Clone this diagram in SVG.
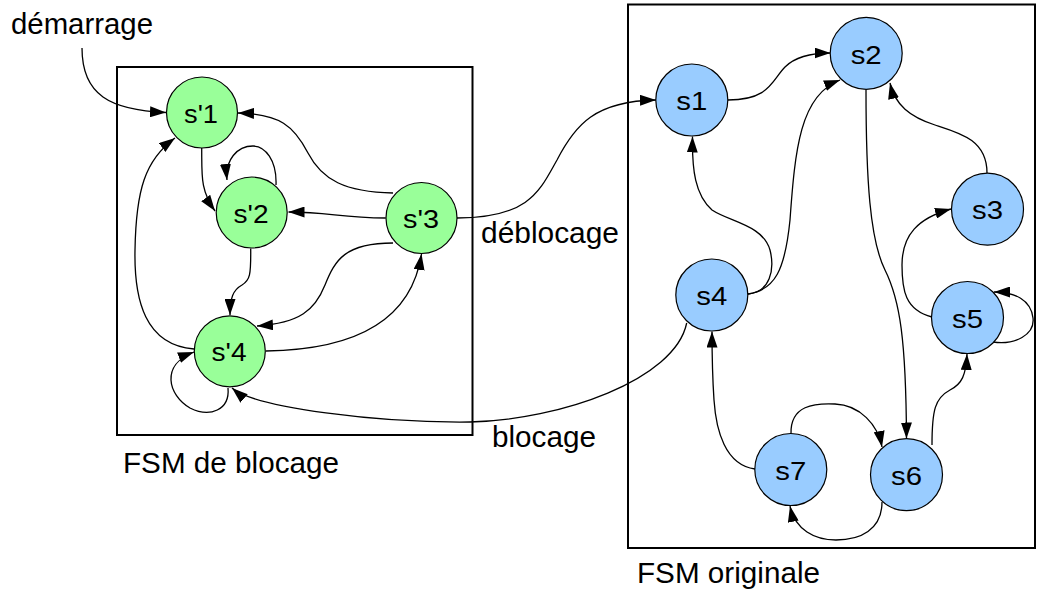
<svg xmlns="http://www.w3.org/2000/svg" width="1038" height="591" viewBox="0 0 1038 591">
  <style>
    .frame { fill: none; stroke: #000; stroke-width: 2; }
    .state { stroke: #000; stroke-width: 1.2; }
    .lock { fill: #99ff99; }
    .orig { fill: #99ccff; }
    .edge { fill: none; stroke: #000; stroke-width: 1.3; marker-end: url(#arrow); }
    .label { font-family: "Liberation Sans", Arial, sans-serif; fill: #000; }
    .node-label { font-size: 26px; text-anchor: middle; }
    .caption { font-size: 29px; }
  </style>
  <defs>
    <marker id="arrow" viewBox="0 0 16 11" refX="16" refY="5.5" markerWidth="16" markerHeight="11" markerUnits="userSpaceOnUse" orient="auto">
      <path d="M0,0 L16,5.5 L0,11 z" fill="#000"/>
    </marker>
  </defs>

  <rect width="1038" height="591" fill="#fff"/>

  <!-- container frames -->
  <g id="frame-blocage">
    <rect class="frame" x="117" y="67" width="355.5" height="368"/>
    <text class="label caption" x="123" y="473" textLength="216" lengthAdjust="spacingAndGlyphs">FSM de blocage</text>
  </g>
  <g id="frame-originale">
    <rect class="frame" x="628" y="4.5" width="407" height="543.5"/>
    <text class="label caption" x="637" y="583" textLength="183" lengthAdjust="spacingAndGlyphs">FSM originale</text>
  </g>

  <!-- transitions -->
  <g id="connectors">
    <!-- start -->
    <path class="edge" d="M82 48 C82 95 110 110 166 112.5"/>
    <!-- locking FSM -->
    <path class="edge" d="M393 193 C345 192 322 180 308 153 C294 126 280 114 238 113"/>
    <path class="edge" d="M201.7 148 C202 175 200 190 215 211"/>
    <path class="edge" d="M276 185 C277 160 265 146 253 146 C237 146 225 160 227 180"/>
    <path class="edge" d="M385.7 218 C340 218 330 212 288.5 212"/>
    <path class="edge" d="M250.7 248.5 C251 275 250 280 242 285 C233 290 230 298 230 315"/>
    <path class="edge" d="M393 243 C345 243 335 260 325 285 C315 310 300 323 257 326"/>
    <path class="edge" d="M266 351 C340 350 410 330 421.5 254"/>
    <path class="edge" d="M194 349 C145 345 134 300 135 250 C136 190 145 160 175 138"/>
    <path class="edge" d="M228 388 C230 410 210 418 190 408 C168 395 160 365 194 352"/>
    <!-- between machines -->
    <path class="edge" d="M457 218 C530 218 540 190 557 160 C575 125 595 101 656 100"/>
    <path class="edge" d="M686.7 323 C675 380 560 420 470 422 C380 423 255 408 232 388"/>
    <!-- original FSM -->
    <path class="edge" d="M728 100 C770 100 772 80 785 67 C795 57 810 53 830.5 53"/>
    <path class="edge" d="M748 294 C770 292 775 270 770 250 C763 225 730 222 712 210 C695 195 692 170 692.5 136.5"/>
    <path class="edge" d="M748 294 C775 290 785 270 790 220 C795 150 800 95 840 80"/>
    <path class="edge" d="M866 89.5 C866 180 870 240 885 270 C900 300 906 340 906.5 438.5"/>
    <path class="edge" d="M987 173 C987 140 960 133 935 125 C910 117 895 105 890 83"/>
    <path class="edge" d="M932 317 C905 310 902 290 902 265 C902 235 918 218 951 209"/>
    <path class="edge" d="M993 342 C1015 345 1035 335 1033 318 C1031 300 1015 292 994 292"/>
    <path class="edge" d="M932 445 C932 410 935 398 950 390 C962 384 966 375 967 354"/>
    <path class="edge" d="M791 434 C790 405 815 403 835 404 C860 405 878 425 882 447"/>
    <path class="edge" d="M882 502 C882 530 860 540 836 540 C815 540 795 530 790 506"/>
    <path class="edge" d="M755 469 C725 465 716 430 714 400 C712 370 712 350 712 331.5"/>
  </g>

  <!-- states of the locking FSM -->
  <g id="sp1">
    <circle class="state lock" cx="202" cy="112.5" r="35.5"/>
    <text class="label node-label" x="201" y="122.5" textLength="34" lengthAdjust="spacingAndGlyphs">s'1</text>
  </g>
  <g id="sp2">
    <circle class="state lock" cx="251.7" cy="212.5" r="35.5"/>
    <text class="label node-label" x="251" y="222.5" textLength="35" lengthAdjust="spacingAndGlyphs">s'2</text>
  </g>
  <g id="sp3">
    <circle class="state lock" cx="421.5" cy="218" r="35.5"/>
    <text class="label node-label" x="421" y="228" textLength="36" lengthAdjust="spacingAndGlyphs">s'3</text>
  </g>
  <g id="sp4">
    <circle class="state lock" cx="229.8" cy="351.3" r="35.5"/>
    <text class="label node-label" x="229" y="361.3" textLength="35" lengthAdjust="spacingAndGlyphs">s'4</text>
  </g>

  <!-- states of the original FSM -->
  <g id="s1">
    <circle class="state orig" cx="691.8" cy="100" r="36"/>
    <text class="label node-label" x="691.8" y="110" textLength="31" lengthAdjust="spacingAndGlyphs">s1</text>
  </g>
  <g id="s2">
    <circle class="state orig" cx="866.2" cy="53.3" r="36"/>
    <text class="label node-label" x="866.2" y="63.5" textLength="31" lengthAdjust="spacingAndGlyphs">s2</text>
  </g>
  <g id="s3">
    <circle class="state orig" cx="987.5" cy="209.2" r="36"/>
    <text class="label node-label" x="987.5" y="219.2" textLength="31" lengthAdjust="spacingAndGlyphs">s3</text>
  </g>
  <g id="s4">
    <circle class="state orig" cx="711.8" cy="295" r="36"/>
    <text class="label node-label" x="711.8" y="305" textLength="31" lengthAdjust="spacingAndGlyphs">s4</text>
  </g>
  <g id="s5">
    <circle class="state orig" cx="967.5" cy="317.5" r="36"/>
    <text class="label node-label" x="967.5" y="327.5" textLength="31" lengthAdjust="spacingAndGlyphs">s5</text>
  </g>
  <g id="s6">
    <circle class="state orig" cx="906.5" cy="474.7" r="36"/>
    <text class="label node-label" x="906.5" y="484.7" textLength="31" lengthAdjust="spacingAndGlyphs">s6</text>
  </g>
  <g id="s7">
    <circle class="state orig" cx="790.8" cy="469.5" r="36"/>
    <text class="label node-label" x="790.8" y="479.5" textLength="31" lengthAdjust="spacingAndGlyphs">s7</text>
  </g>

  <!-- transition labels -->
  <g id="labels">
    <text class="label caption" x="11" y="34" textLength="142" lengthAdjust="spacingAndGlyphs">démarrage</text>
    <text class="label caption" x="481" y="243" textLength="138" lengthAdjust="spacingAndGlyphs">déblocage</text>
    <text class="label caption" x="492" y="447" textLength="104" lengthAdjust="spacingAndGlyphs">blocage</text>
  </g>
</svg>
